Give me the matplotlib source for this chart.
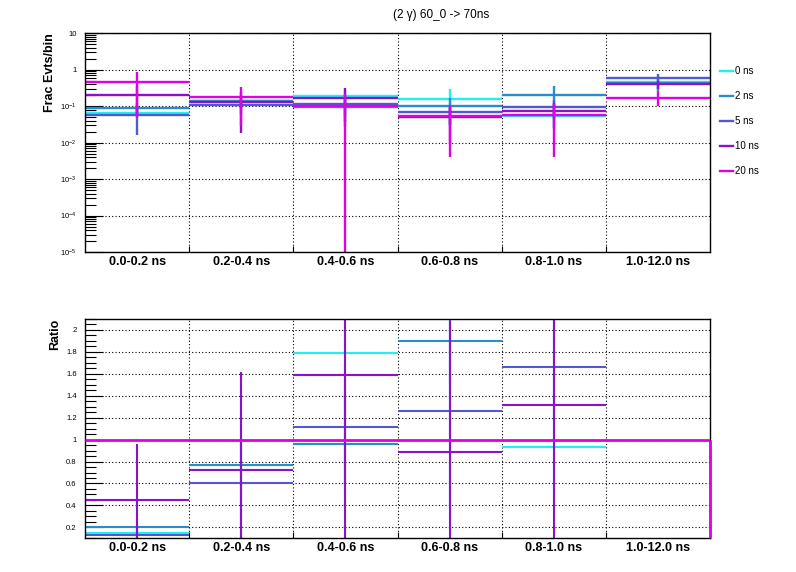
import matplotlib
matplotlib.use("Agg")
import matplotlib.pyplot as plt
import numpy as np
from matplotlib.ticker import LogLocator, NullFormatter, MultipleLocator, FuncFormatter, FixedLocator
from matplotlib.lines import Line2D

plt.rcParams['font.family'] = ['Liberation Sans', 'DejaVu Sans']
plt.rcParams['mathtext.fontset'] = 'custom'
plt.rcParams['mathtext.rm'] = 'Liberation Sans'
plt.rcParams['mathtext.it'] = 'Liberation Sans:italic'

# bins and series
bin_labels = ["0.0-0.2 ns", "0.2-0.4 ns", "0.4-0.6 ns", "0.6-0.8 ns", "0.8-1.0 ns", "1.0-12.0 ns"]
series = ["0 ns", "2 ns", "5 ns", "10 ns", "20 ns"]
colors = ["#1cf2f2", "#2a8dcb", "#5557d2", "#8b12c9", "#e000e4"]

# fraction of events per bin
frac_0 = [0.067, 0.140, 0.190, 0.158, 0.053, 0.470]
frac_2 = [0.092, 0.142, 0.098, 0.102, 0.204, 0.430]
frac_5 = [0.059, 0.110, 0.116, 0.070, 0.096, 0.610]
frac_10 = [0.208, 0.132, 0.168, 0.050, 0.076, 0.405]
frac_20 = [0.472, 0.179, 0.102, 0.055, 0.059, 0.170]
err_0 = [0.020, 0.050, 0.080, 0.130, 0.030, 0.220]
err_2 = [0.030, 0.050, 0.060, 0.070, 0.160, 0.180]
err_5 = [0.043, 0.050, 0.060, 0.040, 0.050, 0.160]
err_10 = [0.150, 0.114, 0.140, 0.040, 0.050, 0.100]
err_20 = [0.420, 0.150, 0.110, 0.051, 0.055, 0.070]

# ratio to 20 ns
ratio_0 = [0.151, 0.770, 1.787, 2.870, 0.933, 2.760]
ratio_2 = [0.203, 0.769, 0.957, 1.903, 3.460, 2.530]
ratio_5 = [0.133, 0.605, 1.115, 1.260, 1.660, 3.590]
ratio_10 = [0.448, 0.721, 1.587, 0.885, 1.315, 2.380]
ratio_20 = [1.0, 1.0, 1.0, 1.0, 1.0, 1.0]
rerr_0 = [0.05, 0.30, 0.60, 0.30, 0.50, 0.30]
rerr_2 = [0.08, 0.85, 0.50, 0.40, 0.50, 0.30]
rerr_5 = [0.06, 0.40, 0.50, 0.90, 0.50, 0.30]
rerr_10 = [0.516, 0.894, 1.60, 1.20, 1.60, 0.20]

fracs = [frac_0, frac_2, frac_5, frac_10, frac_20]
errs = [err_0, err_2, err_5, err_10, err_20]
ratios = [ratio_0, ratio_2, ratio_5, ratio_10]
rerrs = [rerr_0, rerr_2, rerr_5, rerr_10]

edges = np.arange(len(bin_labels) + 1)
centers = (edges[:-1] + edges[1:]) / 2
half = np.diff(edges) / 2

fig = plt.figure(figsize=(7.96, 5.72), dpi=100)
ax1 = fig.add_axes([0.1068, 0.5594, 0.7852, 0.3824])
ax2 = fig.add_axes([0.1068, 0.0589, 0.7852, 0.3834])

grid_kw = dict(color="black", linestyle=(0, (1, 2)), linewidth=0.8)

# top panel
for v, e, c in zip(fracs, errs, colors):
    ax1.errorbar(centers, v, xerr=half, yerr=e, fmt="none", ecolor=c, elinewidth=1.7, capsize=0)
ax1.set_yscale("log")
ax1.set_ylim(1e-5, 10)
ax1.yaxis.set_major_locator(LogLocator(base=10, numticks=20))
ax1.yaxis.set_minor_locator(LogLocator(base=10, subs=np.arange(2, 10), numticks=20))
ax1.yaxis.set_minor_formatter(NullFormatter())


def logfmt(v, pos):
    if abs(v - 1) < 1e-9:
        return "1"
    if abs(v - 10) < 1e-9:
        return "10"
    return r"$10^{%d}$" % int(round(np.log10(v)))


ax1.yaxis.set_major_formatter(FuncFormatter(logfmt))
ax1.set_ylabel("Frac Evts/bin", fontsize=9, fontweight="bold", loc="top")
ax1.yaxis.set_label_coords(-0.047, 1.0)

# bottom panel
for v, e, c in zip(ratios, rerrs, colors[:4]):
    ax2.errorbar(centers, v, xerr=half, yerr=e, fmt="none", ecolor=c, elinewidth=1.5, capsize=0)
ax2.set_ylim(0.1, 2.1)
ax2.stairs(ratio_20, edges, baseline=None, color=colors[4], linewidth=2.0, zorder=2.6)
# closing edge of the reference histogram, drawn over the frame
ax2.vlines(edges[-1], ax2.get_ylim()[0], ratio_20[-1], color=colors[4], linewidth=2.0,
           zorder=3, clip_on=False)
ax2.yaxis.set_major_locator(MultipleLocator(0.2))
ax2.yaxis.set_minor_locator(MultipleLocator(0.05))
ax2.yaxis.set_major_formatter(FuncFormatter(lambda v, p: f"{v:g}"))
ax2.set_ylabel("Ratio", fontsize=9, fontweight="bold", loc="top")
ax2.yaxis.set_label_coords(-0.038, 1.0)

for ax in (ax1, ax2):
    ax.set_xlim(edges[0], edges[-1])
    ax.xaxis.set_major_locator(FixedLocator(centers))
    ax.xaxis.set_minor_locator(FixedLocator(edges[1:-1]))
    ax.set_xticklabels(bin_labels, fontsize=9, fontweight="bold")
    ax.tick_params(axis="x", which="major", length=0, pad=3)
    ax.tick_params(axis="x", which="minor", direction="in", length=4, width=0.8)
    ax.tick_params(axis="y", which="major", direction="in", length=13, width=0.8,
                   labelsize=5.5, pad=6, right=False)
    ax.tick_params(axis="y", which="minor", direction="in", length=8, width=0.8, right=False)
    ax.grid(True, axis="y", which="major", **grid_kw)
    ax.grid(True, axis="x", which="minor", **grid_kw)
    for s in ax.spines.values():
        s.set_linewidth(1.0)

handles = [Line2D([], [], color=c, linewidth=1.7) for c in colors]
fig.legend(handles, series, loc="upper left", bbox_to_anchor=(720 / 796, 1 - 66 / 572),
           frameon=False, fontsize=7, borderpad=0, borderaxespad=0,
           handlelength=1.3, handletextpad=0.25, labelspacing=1.55)

fig.text(393 / 796, 1 - 15 / 572, "(2 γ) 60_0 -> 70ns", fontsize=8.5, ha="left", va="center")

fig.savefig("out.png", dpi=100)
